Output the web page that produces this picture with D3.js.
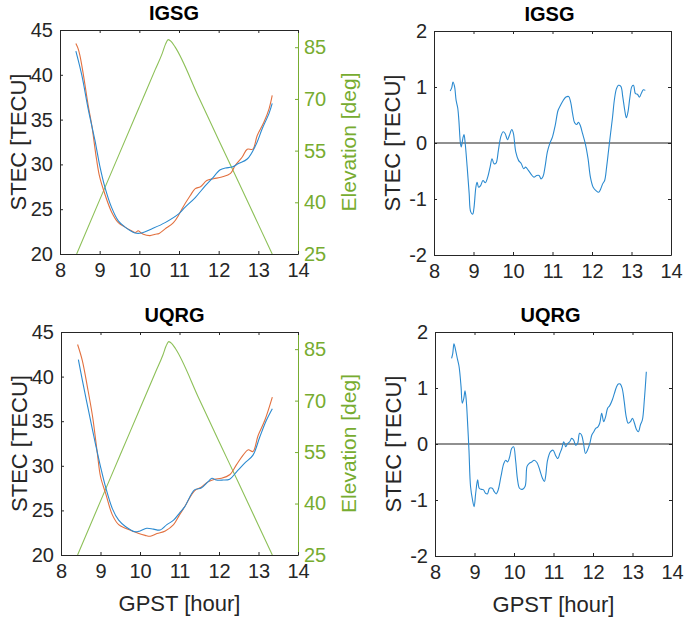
<!DOCTYPE html>
<html>
<head>
<meta charset="utf-8">
<script src="https://cdn.jsdelivr.net/npm/d3@7/dist/d3.min.js"></script>
<style>
  html, body { margin: 0; padding: 0; background: #fff; }
  svg { display: block; }
  text { font-family: "Liberation Sans", Arial, Helvetica, sans-serif; }
</style>
</head>
<body>
<svg id="chart" width="685" height="620"></svg>
<script>
// ---------------- DATA ----------------
const xTicks = [8, 9, 10, 11, 12, 13, 14];
const stecTicks = [20, 25, 30, 35, 40, 45];
const elevTicks = [25, 40, 55, 70, 85];
const diffTicks = [-2, -1, 0, 1, 2];
const titles = ["IGSG", "IGSG", "UQRG", "UQRG"];

// Elevation (deg) of the satellite pass
const elevHours = [8.42, 9.0, 9.5, 10.0, 10.4, 10.58, 10.66, 10.73, 10.8, 10.9, 11.5, 12.0, 12.5, 13.0, 13.35];
const elevDeg   = [25, 40.7, 54.2, 67.7, 78.5, 83.3, 85.9, 87.2, 86.7, 85.1, 70.4, 58.1, 45.9, 33.6, 25];

// IGSG STEC: blue series
const igsgBlueH = [8.40, 8.55, 8.71, 8.88, 9.0, 9.13, 9.30, 9.47, 9.64, 9.89, 10.06, 10.31, 10.65, 11.0, 11.15, 11.41, 11.66, 11.83, 12.04, 12.17, 12.34, 12.5, 12.72, 12.93, 13.1, 13.27, 13.35];
const igsgBlueV = [42.65, 39.96, 36.2, 32.7, 29.9, 27.5, 25.2, 23.7, 23.0, 22.35, 22.35, 22.8, 23.5, 24.5, 25.2, 26.3, 27.6, 28.4, 29.4, 29.6, 29.7, 30.1, 30.6, 32.1, 34.0, 35.7, 36.8];
// IGSG STEC: red series
const igsgRedH = [8.40, 8.45, 8.50, 8.59, 8.71, 8.80, 8.92, 9.0, 9.13, 9.30, 9.47, 9.64, 9.8, 9.9, 9.97, 10.03, 10.1, 10.27, 10.4, 10.5, 10.65, 10.86, 11.0, 11.07, 11.28, 11.41, 11.54, 11.7, 11.87, 12.08, 12.3, 12.42, 12.59, 12.72, 12.86, 12.97, 13.14, 13.27, 13.35];
const igsgRedV = [43.5, 43.0, 42.2, 40.0, 36.6, 34.4, 30.6, 28.6, 26.7, 24.7, 23.5, 23.0, 22.6, 22.4, 22.6, 22.4, 22.2, 22.05, 22.2, 22.3, 22.8, 23.5, 24.4, 25.0, 26.5, 27.3, 27.5, 28.2, 28.4, 28.6, 29.0, 29.9, 30.8, 31.7, 31.7, 33.2, 34.7, 36.2, 37.7];

// UQRG STEC: blue series
const uqrgBlueH = [8.44, 8.54, 8.71, 8.88, 9.0, 9.13, 9.30, 9.46, 9.63, 9.88, 10.0, 10.17, 10.34, 10.51, 10.68, 10.85, 11.0, 11.13, 11.38, 11.55, 11.72, 11.82, 11.93, 12.1, 12.27, 12.44, 12.65, 12.86, 13.03, 13.2, 13.35];
const uqrgBlueV = [41.9, 39.6, 35.9, 32.3, 29.9, 27.6, 25.2, 23.9, 23.2, 22.6, 22.7, 23.0, 22.9, 22.8, 23.4, 23.9, 24.7, 25.4, 27.3, 27.5, 28.2, 28.6, 28.4, 28.4, 28.5, 29.3, 30.3, 31.2, 33.2, 35.1, 36.4];
// UQRG STEC: red series
const uqrgRedH = [8.42, 8.54, 8.67, 8.80, 8.92, 9.0, 9.13, 9.30, 9.46, 9.63, 9.8, 9.97, 10.13, 10.26, 10.43, 10.64, 10.85, 11.0, 11.13, 11.38, 11.55, 11.72, 11.89, 12.06, 12.27, 12.44, 12.61, 12.74, 12.86, 12.99, 13.16, 13.35];
const uqrgRedV = [43.6, 41.8, 38.8, 35.5, 31.4, 28.8, 26.9, 24.5, 23.4, 23.0, 22.7, 22.4, 22.2, 22.1, 22.4, 22.7, 23.4, 24.5, 25.4, 27.2, 27.6, 28.2, 28.5, 28.6, 29.0, 30.1, 31.2, 31.8, 31.6, 33.4, 35.1, 37.7];

// IGSG STEC difference (TECU)
const igsgDiffH = [8.41, 8.45, 8.48, 8.52, 8.56, 8.60, 8.63, 8.67, 8.69, 8.73, 8.76, 8.79, 8.84, 8.89, 8.93, 8.98, 9.01, 9.06, 9.09, 9.13, 9.18, 9.24, 9.30, 9.36, 9.42, 9.47, 9.52, 9.57, 9.63, 9.69, 9.75, 9.80, 9.86, 9.91, 9.97, 10.01, 10.07, 10.14, 10.21, 10.27, 10.32, 10.39, 10.46, 10.53, 10.60, 10.66, 10.71, 10.76, 10.81, 10.87, 10.93, 11.0, 11.07, 11.14, 11.20, 11.27, 11.34, 11.41, 11.46, 11.51, 11.56, 11.61, 11.66, 11.71, 11.76, 11.83, 11.90, 11.96, 12.03, 12.10, 12.17, 12.22, 12.27, 12.32, 12.37, 12.42, 12.47, 12.52, 12.57, 12.62, 12.67, 12.73, 12.78, 12.83, 12.87, 12.91, 12.96, 13.01, 13.05, 13.10, 13.15, 13.20, 13.25, 13.30, 13.35];
const igsgDiffV = [0.93, 0.99, 1.09, 1.01, 0.76, 0.63, 0.40, -0.01, -0.07, 0.08, 0.15, -0.01, -0.43, -0.90, -1.23, -1.27, -1.17, -0.79, -0.70, -0.79, -0.76, -0.67, -0.71, -0.61, -0.43, -0.28, -0.37, -0.36, -0.13, 0.11, 0.20, 0.17, 0.06, 0.14, 0.24, 0.17, -0.16, -0.31, -0.37, -0.46, -0.43, -0.49, -0.56, -0.61, -0.58, -0.58, -0.64, -0.60, -0.43, -0.16, -0.01, 0.11, 0.32, 0.58, 0.67, 0.76, 0.82, 0.83, 0.73, 0.52, 0.36, 0.33, 0.37, 0.30, 0.17, -0.01, -0.28, -0.61, -0.79, -0.85, -0.88, -0.82, -0.73, -0.67, -0.43, -0.13, 0.17, 0.46, 0.79, 0.97, 1.03, 1.01, 0.82, 0.58, 0.45, 0.55, 0.82, 1.01, 1.03, 0.88, 0.87, 0.82, 0.89, 0.95, 0.94];

// UQRG STEC difference (TECU)
const uqrgDiffH = [8.42, 8.45, 8.48, 8.52, 8.57, 8.61, 8.66, 8.69, 8.73, 8.76, 8.79, 8.83, 8.86, 8.90, 8.95, 8.99, 9.03, 9.08, 9.12, 9.18, 9.23, 9.28, 9.33, 9.38, 9.45, 9.50, 9.55, 9.60, 9.67, 9.74, 9.79, 9.84, 9.89, 9.94, 9.99, 10.04, 10.09, 10.14, 10.21, 10.28, 10.33, 10.38, 10.45, 10.51, 10.58, 10.65, 10.72, 10.77, 10.80, 10.85, 10.92, 10.99, 11.05, 11.11, 11.16, 11.21, 11.26, 11.31, 11.36, 11.41, 11.46, 11.51, 11.56, 11.61, 11.66, 11.71, 11.76, 11.81, 11.86, 11.92, 11.97, 12.02, 12.07, 12.12, 12.17, 12.22, 12.27, 12.32, 12.37, 12.42, 12.49, 12.54, 12.59, 12.64, 12.69, 12.74, 12.79, 12.84, 12.89, 12.95, 13.00, 13.05, 13.10, 13.15, 13.20, 13.25, 13.30, 13.35];
const uqrgDiffV = [1.53, 1.62, 1.79, 1.68, 1.51, 1.38, 1.02, 0.73, 0.82, 0.95, 0.79, 0.31, -0.11, -0.76, -1.00, -1.12, -0.88, -0.64, -0.79, -0.81, -0.82, -0.88, -0.89, -0.79, -0.79, -0.85, -0.89, -0.82, -0.58, -0.35, -0.29, -0.32, -0.23, -0.08, -0.05, -0.29, -0.64, -0.79, -0.81, -0.76, -0.40, -0.35, -0.32, -0.29, -0.33, -0.46, -0.61, -0.67, -0.58, -0.29, -0.14, -0.11, -0.20, -0.26, -0.17, -0.08, 0.04, -0.05, 0.01, 0.04, 0.10, 0.07, -0.02, 0.01, 0.19, 0.16, 0.01, -0.17, -0.11, 0.01, 0.16, 0.22, 0.28, 0.30, 0.37, 0.55, 0.40, 0.49, 0.64, 0.68, 0.79, 0.90, 1.01, 1.07, 1.07, 0.99, 0.76, 0.49, 0.37, 0.40, 0.46, 0.37, 0.26, 0.22, 0.34, 0.43, 0.79, 1.29];

// ---------------- STYLE / LAYOUT ----------------
const FONT = '"Liberation Sans", Arial, Helvetica, sans-serif';
const AXIS_COL = "#262626";
const GREEN_TXT = "#77AC30";
const GREEN_LINE = "#8dc058";
const BLUE = "#2b8ad0";
const RED = "#e2703f";
const intFmt = d => (d < 0 ? "-" + Math.abs(d) : String(d));

const panels = [
  { x: 60,  y: 30,  w: 238, h: 224, type: "stec", blue: [igsgBlueH, igsgBlueV], red: [igsgRedH, igsgRedV], title: titles[0], xlabel: false, tdx: -5 },
  { x: 434, y: 31,  w: 237, h: 224, type: "diff", diff: [igsgDiffH, igsgDiffV], title: titles[1], xlabel: false, tdx: -3 },
  { x: 61,  y: 332, w: 237, h: 223, type: "stec", blue: [uqrgBlueH, uqrgBlueV], red: [uqrgRedH, uqrgRedV], title: titles[2], xlabel: true, tdx: -5 },
  { x: 435, y: 332, w: 237, h: 224, type: "diff", diff: [uqrgDiffH, uqrgDiffV], title: titles[3], xlabel: true, tdx: -3 }
];

const svg = d3.select("#chart");

function styleAxis(g, color, fontSize) {
  g.selectAll("path").attr("stroke", color).attr("stroke-width", 1);
  g.selectAll("line").attr("stroke", color).attr("stroke-width", 1);
  g.selectAll("text").attr("fill", color).attr("font-size", fontSize).attr("font-family", FONT);
}

function zip(h, v) { return h.map((d, i) => [d, v[i]]); }

panels.forEach(p => {
  const g = svg.append("g");
  const x = d3.scaleLinear().domain([8, 14]).range([p.x, p.x + p.w]);
  let y;
  if (p.type === "stec") y = d3.scaleLinear().domain([20, 45]).range([p.y + p.h, p.y]);
  else y = d3.scaleLinear().domain([-2, 2]).range([p.y + p.h, p.y]);

  const clipId = "clip" + p.x + "_" + p.y;
  svg.append("clipPath").attr("id", clipId).append("rect")
    .attr("x", p.x).attr("y", p.y).attr("width", p.w).attr("height", p.h);

  const plot = g.append("g").attr("clip-path", `url(#${clipId})`);

  if (p.type === "stec") {
    const ye = d3.scaleLinear().domain([25, 90]).range([p.y + p.h, p.y]);
    const lineE = d3.line().x(d => x(d[0])).y(d => ye(d[1])).curve(d3.curveMonotoneX);
    plot.append("path").datum(zip(elevHours, elevDeg)).attr("d", lineE)
      .attr("fill", "none").attr("stroke", GREEN_LINE).attr("stroke-width", 1.1);

    const line = d3.line().x(d => x(d[0])).y(d => y(d[1])).curve(d3.curveCatmullRom.alpha(0.5));
    plot.append("path").datum(zip(p.red[0], p.red[1])).attr("d", line)
      .attr("fill", "none").attr("stroke", RED).attr("stroke-width", 1.1);
    plot.append("path").datum(zip(p.blue[0], p.blue[1])).attr("d", line)
      .attr("fill", "none").attr("stroke", BLUE).attr("stroke-width", 1.1);

    // Right (elevation) axis
    const ar = g.append("g").attr("transform", `translate(${p.x + p.w},0)`)
      .call(d3.axisRight(ye).tickValues(elevTicks).tickSize(-3).tickSizeOuter(0).tickPadding(6).tickFormat(intFmt));
    styleAxis(ar, GREEN_TXT, 20);

    g.append("text")
      .attr("transform", `translate(${p.x + p.w + 58},${p.y + p.h / 2}) rotate(-90)`)
      .attr("text-anchor", "middle").attr("font-size", 21).attr("fill", GREEN_TXT)
      .attr("font-family", FONT).text("Elevation [deg]");
  } else {
    plot.append("line").attr("x1", p.x).attr("x2", p.x + p.w)
      .attr("y1", y(0)).attr("y2", y(0)).attr("stroke", "#222").attr("stroke-width", 1.2);
    const line = d3.line().x(d => x(d[0])).y(d => y(d[1])).curve(d3.curveCatmullRom.alpha(0.5));
    plot.append("path").datum(zip(p.diff[0], p.diff[1])).attr("d", line)
      .attr("fill", "none").attr("stroke", BLUE).attr("stroke-width", 1.1);

    const ar = g.append("g").attr("transform", `translate(${p.x + p.w},0)`)
      .call(d3.axisRight(y).tickValues(diffTicks).tickSize(-3).tickSizeOuter(0).tickFormat(""));
    styleAxis(ar, AXIS_COL, 20);
  }

  // Left axis
  const al = g.append("g").attr("transform", `translate(${p.x},0)`)
    .call(d3.axisLeft(y).tickValues(p.type === "stec" ? stecTicks : diffTicks)
      .tickSize(-3).tickSizeOuter(0).tickPadding(7).tickFormat(intFmt));
  styleAxis(al, AXIS_COL, 20);

  // Bottom axis
  const ab = g.append("g").attr("transform", `translate(0,${p.y + p.h})`)
    .call(d3.axisBottom(x).tickValues(xTicks).tickSize(-3).tickSizeOuter(0).tickPadding(9).tickFormat(intFmt));
  styleAxis(ab, AXIS_COL, 20);

  // Top axis (box)
  const at = g.append("g").attr("transform", `translate(0,${p.y})`)
    .call(d3.axisTop(x).tickValues(xTicks).tickSize(-3).tickSizeOuter(0).tickFormat(""));
  styleAxis(at, AXIS_COL, 20);

  // Title
  g.append("text").attr("x", p.x + p.w / 2 + p.tdx).attr("y", p.y - 10)
    .attr("text-anchor", "middle").attr("font-size", 20).attr("font-weight", "bold")
    .attr("fill", "#000").attr("font-family", FONT).text(p.title);

  // Y label
  g.append("text")
    .attr("transform", `translate(${p.x - 34},${p.y + p.h / 2}) rotate(-90)`)
    .attr("text-anchor", "middle").attr("font-size", 22).attr("fill", AXIS_COL)
    .attr("font-family", FONT).text("STEC [TECU]");

  if (p.xlabel) {
    g.append("text").attr("x", p.x + p.w / 2).attr("y", p.y + p.h + 56)
      .attr("text-anchor", "middle").attr("font-size", 22).attr("fill", AXIS_COL)
      .attr("font-family", FONT).text("GPST [hour]");
  }
});
</script>
</body>
</html>
